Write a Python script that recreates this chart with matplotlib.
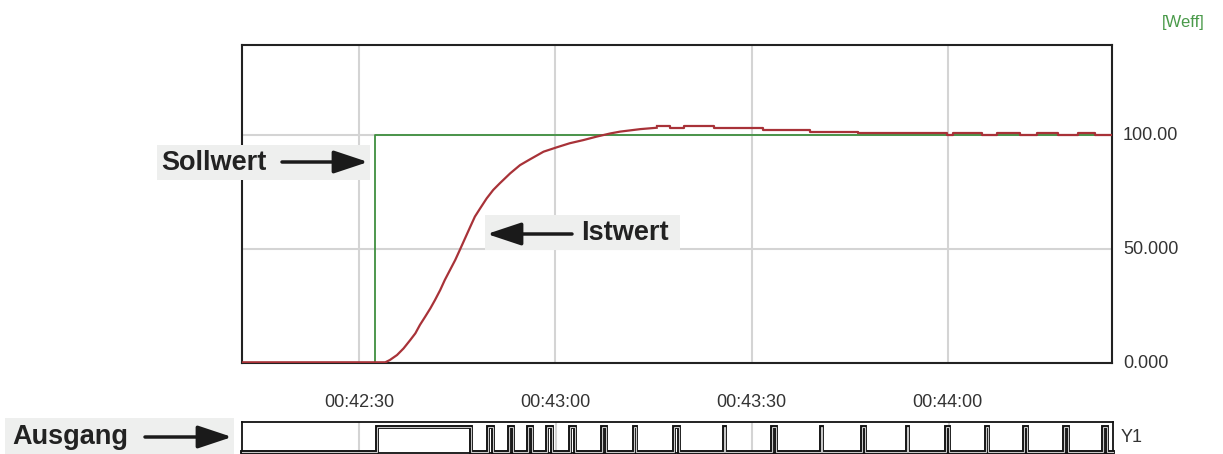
import numpy as np
import matplotlib
matplotlib.use("Agg")
import matplotlib.pyplot as plt
from matplotlib.patches import Rectangle, FancyArrowPatch

# ---- data (time in seconds after 00:42:00) ----
x_min, x_max = 12.1, 145.1
tick_pos = [30, 60, 90, 120]
tick_labels = ["00:42:30", "00:43:00", "00:43:30", "00:44:00"]
y_ticks = [0, 50, 100]
y_tick_labels = ["0.000", "50.000", "100.00"]

# Sollwert (setpoint)
t_soll = [12.1, 32.4, 32.4, 145.1]
v_soll = [0, 0, 100, 100]

# Istwert (actual value) - rising part
t_rise = [12.1, 34.0, 34.7, 35.8, 36.8, 37.8, 38.6, 39.3, 40.1, 40.9, 41.6,
          42.4, 43.1, 43.9, 44.7, 45.4, 46.2, 47.0, 47.7, 48.5, 49.5, 50.5,
          51.5, 53.1, 54.6, 56.1, 58.2, 60.2, 62.2, 64.3, 66.3, 68.4, 69.9,
          73.0, 75.5]
v_rise = [0.3, 0.3, 1.3, 3.5, 6.4, 10.0, 13.0, 16.7, 20.3, 24.0, 27.6,
          32.0, 36.4, 40.8, 45.2, 49.6, 54.7, 59.8, 64.2, 67.8, 72.2, 75.9,
          78.8, 83.2, 86.8, 89.3, 92.7, 94.6, 96.4, 97.8, 99.3, 100.7, 101.5,
          102.6, 103.2]
# Istwert - quantised steps at the end
t_step_edges = [75.5, 77.5, 79.6, 84.2, 91.8, 98.9, 106.3, 119.8, 120.8, 125.2,
                127.5, 131.0, 133.6, 136.9, 139.9, 142.5, 145.0]
v_step_levels = [103.9, 102.9, 103.9, 102.9, 102.2, 101.4, 100.7, 100.0, 100.7,
                 100.0, 100.7, 100.0, 100.7, 100.0, 100.7, 100.0]

# Ausgang (output) pulses
pulse_on = [32.7, 49.7, 52.8, 55.7, 58.7, 62.2, 67.1, 72.0, 78.1, 85.7, 93.1,
            100.5, 106.7, 113.6, 119.6, 125.7, 131.5, 137.6, 143.6]
pulse_off = [47.1, 50.5, 53.5, 56.4, 59.5, 62.9, 67.7, 72.2, 78.8, 85.9, 93.6,
             100.7, 107.2, 113.8, 120.0, 126.0, 131.9, 138.2, 144.2]

# ---- figure ----
W, H = 1223, 454
fig = plt.figure(figsize=(W / 100, H / 100), dpi=100)
plt.rcParams['font.family'] = ['Liberation Sans', 'DejaVu Sans']

def fx(px):
    return px / W

def fy(py):
    return 1 - py / H

ax = fig.add_axes([fx(242), fy(363), fx(1112) - fx(242), fy(45) - fy(363)])
ax.set_xlim(x_min, x_max)
ax.set_ylim(0, 139.5)
ax.set_xticks(tick_pos)
ax.set_xticklabels(tick_labels)
ax.yaxis.tick_right()
ax.set_yticks(y_ticks)
ax.set_yticklabels(y_tick_labels)
ax.tick_params(axis='x', length=0, pad=22, labelsize=13, labelcolor='#333333')
ax.tick_params(axis='y', length=0, pad=8, labelsize=13, labelcolor='#333333')
for lab in ax.get_yticklabels():
    lab.set_verticalalignment('center')
ax.grid(True, color='#d4d4d4', lw=1.5)
ax.set_axisbelow(True)
for s in ax.spines.values():
    s.set_color('#222222')
    s.set_linewidth(1.5)

ax.plot(t_soll, v_soll, color='#3f8f3f', lw=1.3, zorder=3)
ax.plot(t_rise, v_rise, color='#a83238', lw=1.6, zorder=4)
ax.step(t_step_edges, v_step_levels + [v_step_levels[-1]], where='post',
        color='#a83238', lw=1.6, zorder=4)

# output strip
ax2 = fig.add_axes([fx(242), fy(453), fx(1113) - fx(242), fy(422) - fy(453)])
ax2.set_xlim(x_min, x_max)
ax2.set_ylim(-0.04, 1.2)
ax2.set_xticks(tick_pos)
ax2.set_yticks([])
ax2.tick_params(axis='x', length=0, labelbottom=False)
ax2.grid(True, axis='x', color='#d4d4d4', lw=1.5)
ax2.set_axisbelow(True)
for s in ax2.spines.values():
    s.set_color('#111111')
    s.set_linewidth(1.3)

px = [x_min]
py = [0]
for a, b in zip(pulse_on, pulse_off):
    px += [a, a, b, b]
    py += [0, 1, 1, 0]
px.append(x_max)
py.append(0)
ax2.plot(px, py, color='#111111', lw=2.8, zorder=3, clip_on=False,
         solid_joinstyle='miter')
ax2.plot(px, py, color='#c8c8c8', lw=0.8, zorder=4, clip_on=False,
         solid_joinstyle='miter')

fig.text(fx(1121), fy(438), "Y1", fontsize=13, color='#333333', va='center', ha='left')
fig.text(fx(1205), fy(22), "[Weff]", fontsize=12, color='#4a9a4a', va='center', ha='right')

# annotation boxes
def label_box(x0, x1, y0, y1, text, tx, arrow_from, arrow_to, ay):
    fig.patches.append(Rectangle((fx(x0), fy(y1)), fx(x1) - fx(x0), fy(y0) - fy(y1),
                                 transform=fig.transFigure, facecolor='#eeefee',
                                 edgecolor='none', zorder=5))
    fig.text(fx(tx), fy((y0 + y1) / 2 + 1), text, fontsize=19.5, fontweight='bold',
             color='#222222', va='center', ha='left', zorder=6)
    arr = FancyArrowPatch((arrow_from, H - ay), (arrow_to, H - ay),
                          transform=None, arrowstyle='-|>,head_length=1.5,head_width=0.5',
                          mutation_scale=14, lw=2.5, color='#1a1a1a', zorder=7,
                          shrinkA=0, shrinkB=0)
    fig.patches.append(arr)

label_box(157, 370, 145, 180, "Sollwert", 161, 282, 368, 162)
label_box(485, 680, 215, 250, "Istwert", 581, 572, 487, 234)
label_box(5, 234, 418, 454, "Ausgang", 12, 145, 232, 437)

fig.savefig("out.png", dpi=100)
